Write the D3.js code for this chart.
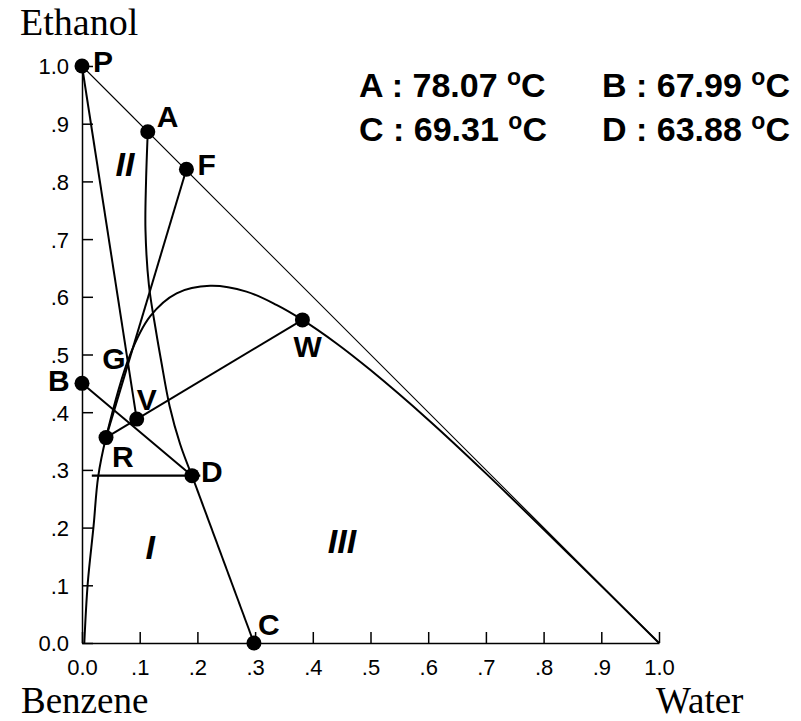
<!DOCTYPE html>
<html>
<head>
<meta charset="utf-8">
<script src="https://cdn.jsdelivr.net/npm/d3@7"></script>
<style>
  body { margin: 0; background: #fff; }
  text { font-family: Arial, "Liberation Sans", sans-serif; }
  .title { font-family: "Times New Roman", "Liberation Serif", serif; }
</style>
</head>
<body>
<svg id="chart" width="801" height="721"></svg>
<script>
// axis ticks (mole fraction)
const tickValues = [0, 0.1, 0.2, 0.3, 0.4, 0.5, 0.6, 0.7, 0.8, 0.9, 1.0];

// labelled points: [name, water x, ethanol y]
const pointNames = ["P", "A", "F", "W", "B", "V", "R", "D", "C"];
const pointX = [0.0, 0.114, 0.181, 0.382, 0.0, 0.0948, 0.0416, 0.1906, 0.298];
const pointY = [1.0, 0.886, 0.821, 0.560, 0.450, 0.388, 0.356, 0.290, 0.0];

// G is only a label on the binodal curve
const gPoint = [0.082, 0.496];

// straight tie lines between named points
const tieLines = [["P", "V"], ["B", "D"], ["R", "W"], ["F", "R"], ["D", "C"]];

// horizontal line through D
const dLine = [[0.017, 0.290], [0.205, 0.290]];

// binodal (solubility) curve
const binodalX = [0.004, 0.010, 0.020, 0.028, 0.0416, 0.082, 0.118, 0.164, 0.222, 0.285, 0.337, 0.382, 0.44, 0.50, 0.60, 0.70, 0.85, 1.0];
const binodalY = [0.0, 0.104, 0.202, 0.288, 0.356, 0.496, 0.566, 0.606, 0.619, 0.609, 0.586, 0.560, 0.520, 0.473, 0.387, 0.294, 0.148, 0.0];

// distillation boundary A -> D
const boundaryX = [0.114, 0.111, 0.110, 0.116, 0.128, 0.137, 0.152, 0.170, 0.1906];
const boundaryY = [0.886, 0.80, 0.716, 0.62, 0.542, 0.49, 0.41, 0.345, 0.290];

// boiling temperatures
const tempNames = ["A", "B", "C", "D"];
const tempValues = ["78.07", "67.99", "69.31", "63.88"];

// region labels
const regionNames = ["II", "I", "III"];
const regionX = [0.058, 0.11, 0.426];
const regionY = [0.81, 0.145, 0.156];

const svg = d3.select("#chart");
const x = d3.scaleLinear().domain([0, 1]).range([82, 659]);
const y = d3.scaleLinear().domain([0, 1]).range([643, 66]);

const fmt = (d) => (d === 0 ? "0.0" : d === 1 ? "1.0" : d3.format(".1f")(d).replace(/^0/, ""));

// axes
const xAxis = svg.append("g")
    .attr("transform", `translate(0,${y(0)})`)
    .call(d3.axisBottom(x).tickValues(tickValues).tickFormat(fmt)
        .tickSizeInner(-11).tickSizeOuter(0).tickPadding(16));
const yAxis = svg.append("g")
    .attr("transform", `translate(${x(0)},0)`)
    .call(d3.axisLeft(y).tickValues(tickValues).tickFormat(fmt)
        .tickSizeInner(-11).tickSizeOuter(0).tickPadding(13));
[xAxis, yAxis].forEach((g) => {
    g.selectAll("path, line").attr("stroke", "#000").attr("stroke-width", 1.5);
    g.selectAll("text").attr("font-size", 22).attr("fill", "#000")
        .attr("font-family", "Arial, 'Liberation Sans', sans-serif");
});
yAxis.selectAll("text").attr("dy", "0.36em");

// hypotenuse
svg.append("line")
    .attr("x1", x(0)).attr("y1", y(1))
    .attr("x2", x(1)).attr("y2", y(0))
    .attr("stroke", "#000").attr("stroke-width", 1.1);

const line = d3.line().x((d) => x(d[0])).y((d) => y(d[1]));
const smooth = d3.line().x((d) => x(d[0])).y((d) => y(d[1])).curve(d3.curveCatmullRom.alpha(0.5));

svg.append("path")
    .attr("d", smooth(binodalX.map((v, i) => [v, binodalY[i]])))
    .attr("fill", "none").attr("stroke", "#000").attr("stroke-width", 2);
svg.append("path")
    .attr("d", smooth(boundaryX.map((v, i) => [v, boundaryY[i]])))
    .attr("fill", "none").attr("stroke", "#000").attr("stroke-width", 2);

const pt = {};
pointNames.forEach((n, i) => { pt[n] = [pointX[i], pointY[i]]; });

svg.selectAll(".tie")
    .data(tieLines)
    .join("path")
    .attr("class", "tie")
    .attr("d", (d) => line([pt[d[0]], pt[d[1]]]))
    .attr("fill", "none").attr("stroke", "#000").attr("stroke-width", 2);

svg.append("path")
    .attr("d", line(dLine))
    .attr("fill", "none").attr("stroke", "#000").attr("stroke-width", 2.2);

// dots
svg.selectAll(".dot")
    .data(pointNames)
    .join("circle")
    .attr("class", "dot")
    .attr("cx", (d) => x(pt[d][0]))
    .attr("cy", (d) => y(pt[d][1]))
    .attr("r", 7.5)
    .attr("fill", "#000");

// point labels, offsets in px from the point
const labelOffset = {
    P: [11, 6], A: [9, -5], F: [11, 6], W: [-9, 37], B: [-34, 8],
    V: [0, -9], R: [6, 29], D: [9, 6], C: [4, -8], G: [-27, 12]
};
const labels = pointNames.map((n) => [n, pt[n]]).concat([["G", gPoint]]);
svg.selectAll(".plabel")
    .data(labels)
    .join("text")
    .attr("class", "plabel")
    .attr("x", (d) => x(d[1][0]) + labelOffset[d[0]][0])
    .attr("y", (d) => y(d[1][1]) + labelOffset[d[0]][1])
    .attr("font-size", 30).attr("font-weight", "bold")
    .text((d) => d[0]);

// region labels
svg.selectAll(".region")
    .data(regionNames)
    .join("text")
    .attr("class", "region")
    .attr("x", (d, i) => x(regionX[i]))
    .attr("y", (d, i) => y(regionY[i]))
    .attr("font-size", 34).attr("font-weight", "bold").attr("font-style", "italic")
    .text((d) => d);

// temperature legend
const temps = svg.selectAll(".temp")
    .data(tempNames)
    .join("text")
    .attr("class", "temp")
    .attr("x", (d, i) => (i % 2 === 0 ? 359 : 602))
    .attr("y", (d, i) => (i < 2 ? 97 : 141))
    .attr("font-size", 34).attr("font-weight", "bold");
temps.append("tspan").text((d, i) => `${d} : ${tempValues[i]} `);
temps.append("tspan").attr("font-size", 23).attr("dy", -12).text("o");
temps.append("tspan").attr("dy", 12).text("C");

// component titles
svg.append("text").attr("class", "title").attr("x", 20).attr("y", 35)
    .attr("font-size", 38).text("Ethanol");
svg.append("text").attr("class", "title").attr("x", 21).attr("y", 713)
    .attr("font-size", 37).text("Benzene");
svg.append("text").attr("class", "title").attr("x", 656).attr("y", 713)
    .attr("font-size", 37).text("Water");
</script>
</body>
</html>
